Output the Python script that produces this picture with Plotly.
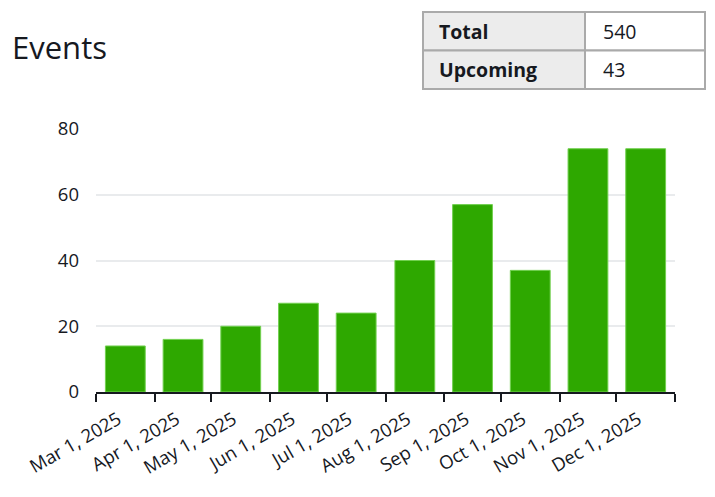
import plotly.graph_objects as go

months = ["2025-03-01", "2025-04-01", "2025-05-01", "2025-06-01", "2025-07-01",
          "2025-08-01", "2025-09-01", "2025-10-01", "2025-11-01", "2025-12-01"]
events = [14, 16, 20, 27, 24, 40, 57, 37, 74, 74]
tick_vals = months + ["2026-01-01"]
tick_text = ["Mar 1, 2025", "Apr 1, 2025", "May 1, 2025", "Jun 1, 2025", "Jul 1, 2025",
             "Aug 1, 2025", "Sep 1, 2025", "Oct 1, 2025", "Nov 1, 2025", "Dec 1, 2025", ""]
y_ticks = [0, 20, 40, 60, 80]
table_labels = ["Total", "Upcoming"]
table_values = ["540", "43"]
title_text = "Events"

W, H = 715, 497
FONT = "Open Sans"
TXT = "#16191f"


def px(x):
    return x / W


def py(y):
    return (H - y) / H


fig = go.Figure()
fig.add_trace(go.Bar(
    x=months, y=events,
    xperiod="M1", xperiodalignment="middle",
    marker=dict(color="#2ea800", line=dict(color="#72d050", width=1)),
    hoverinfo="x+y",
))

# summary table (cells drawn as shapes, text as annotations)
TX0, TX1, TX2 = 423, 585, 705
TY0, ROW_H = 12, 38.5
for i, (lab, val) in enumerate(zip(table_labels, table_values)):
    y0 = TY0 + i * ROW_H
    y1 = y0 + ROW_H
    fig.add_shape(type="rect", xref="paper", yref="paper",
                  x0=px(TX0), x1=px(TX1), y0=py(y1), y1=py(y0),
                  fillcolor="#ececec", line=dict(color="#aaaaaa", width=2), layer="above")
    fig.add_shape(type="rect", xref="paper", yref="paper",
                  x0=px(TX1), x1=px(TX2), y0=py(y1), y1=py(y0),
                  fillcolor="#ffffff", line=dict(color="#aaaaaa", width=2), layer="above")
    yc = py((y0 + y1) / 2)
    fig.add_annotation(text="<b>" + lab + "</b>", xref="paper", yref="paper",
                       x=px(TX0 + 14), y=yc, xanchor="left", yanchor="middle",
                       showarrow=False, font=dict(family=FONT, size=19.5, color=TXT))
    fig.add_annotation(text=val, xref="paper", yref="paper",
                       x=px(TX1 + 16), y=yc, xanchor="left", yanchor="middle",
                       showarrow=False, font=dict(family=FONT, size=19.5, color=TXT))

fig.add_annotation(
    text=title_text, xref="paper", yref="paper",
    x=px(10), y=py(47), xanchor="left", yanchor="middle",
    showarrow=False, font=dict(family=FONT, size=31, color=TXT),
)

fig.update_layout(
    width=W, height=H,
    margin=dict(l=0, r=0, t=0, b=0, autoexpand=False),
    paper_bgcolor="white", plot_bgcolor="white",
    showlegend=False, bargap=0.31,
    font=dict(family=FONT, color=TXT),
    xaxis=dict(
        type="date", domain=[px(96), px(675)], automargin=False,
        range=["2025-03-01", "2026-01-01"],
        tickmode="array", tickvals=tick_vals, ticktext=tick_text,
        tickangle=-30, ticks="outside", ticklen=8, tickwidth=1.5, tickcolor="#16191f",
        ticklabelshift=22,
        showline=True, linecolor="#16191f", linewidth=1.5,
        showgrid=False, tickfont=dict(family=FONT, size=18.5, color=TXT),
    ),
    yaxis=dict(
        domain=[py(392), py(129)], automargin=False,
        range=[0, 80], tickvals=y_ticks,
        showgrid=True, gridcolor="#e9ebed", gridwidth=1.5,
        zeroline=False, showline=False, ticks="",
        ticklabelstandoff=16,
        tickfont=dict(family=FONT, size=18.5, color=TXT),
    ),
)

fig.write_html("out.html", config={"displayModeBar": False},
               post_script="document.body.style.margin='0px';document.body.style.overflow='hidden';")
